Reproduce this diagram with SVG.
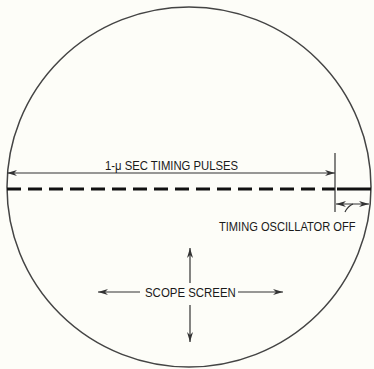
<svg xmlns="http://www.w3.org/2000/svg" width="374" height="369" viewBox="0 0 374 369">
<defs>
<style>
.t{font-family:"Liberation Sans",Arial,sans-serif;font-size:13px;fill:#1a1a1a;}
.ln{stroke:#333;stroke-width:1.2;fill:none;}
</style>
<marker id="ah" viewBox="0 0 10 6" refX="10" refY="3" markerWidth="10" markerHeight="6" markerUnits="userSpaceOnUse" orient="auto-start-reverse">
<path d="M0,0 L10,3 L0,6 L3,3 Z" fill="#333"/>
</marker>
</defs>
<rect width="374" height="369" fill="#fdfdf8"/>
<g id="screen">
<ellipse cx="189" cy="187" rx="182" ry="180" fill="none" stroke="#444" stroke-width="1.5"/>
</g>
<g id="trace">
<line x1="7" y1="189" x2="335" y2="189" stroke="#111" stroke-width="3" stroke-dasharray="14 7"/>
<line x1="337" y1="189" x2="371" y2="189" stroke="#111" stroke-width="3"/>
</g>
<g id="connectors">
<line class="ln" x1="335" y1="153" x2="335" y2="212"/>
<line class="ln" x1="7" y1="173" x2="335" y2="173" marker-start="url(#ah)" marker-end="url(#ah)"/>
<line class="ln" x1="336" y1="204" x2="369" y2="204" marker-start="url(#ah)" marker-end="url(#ah)"/>
<path class="ln" d="M345,212 Q348,206 353,204"/>
<line class="ln" x1="140" y1="292" x2="98" y2="292" marker-end="url(#ah)"/>
<line class="ln" x1="238" y1="292" x2="283" y2="292" marker-end="url(#ah)"/>
<line class="ln" x1="190" y1="283" x2="190" y2="248" marker-end="url(#ah)"/>
<line class="ln" x1="190" y1="305" x2="190" y2="342" marker-end="url(#ah)"/>
</g>
<g id="label-pulses">
<text class="t" transform="translate(105,170) scale(0.87,1)">1-μ SEC TIMING PULSES</text>
</g>
<g id="label-off">
<text class="t" transform="translate(219,231) scale(0.855,1)">TIMING OSCILLATOR OFF</text>
</g>
<g id="label-scope">
<text class="t" transform="translate(145,297) scale(0.88,1)">SCOPE SCREEN</text>
</g>
</svg>
